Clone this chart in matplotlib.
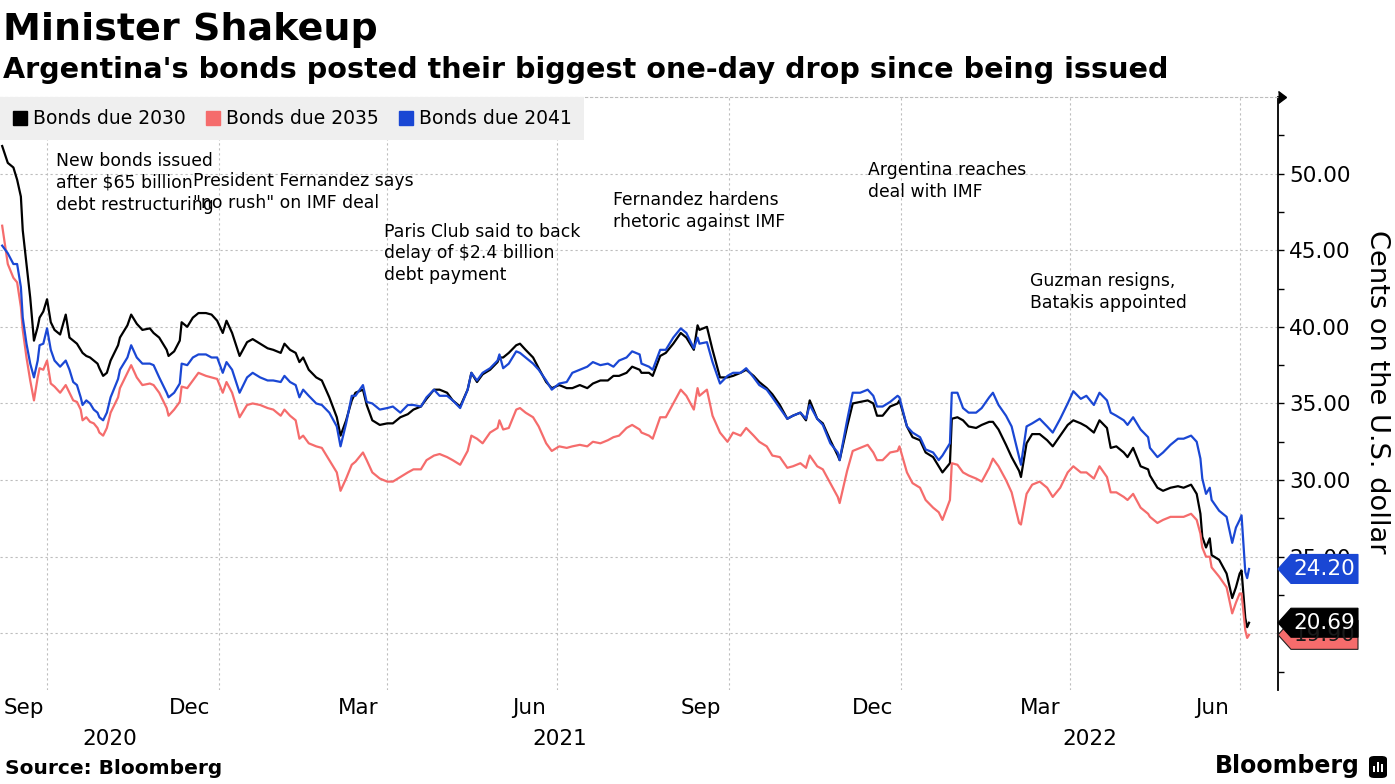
import matplotlib
matplotlib.use("Agg")
import matplotlib.pyplot as plt
import matplotlib.dates as mdates
import pandas as pd
from matplotlib.lines import Line2D
from matplotlib.patches import Polygon, FancyBboxPatch, Rectangle
from matplotlib.ticker import FormatStrFormatter, MultipleLocator, FixedLocator, FixedFormatter
from matplotlib.transforms import blended_transform_factory

# prices in cents on the dollar
dates = pd.to_datetime([
    "2020-09-07", "2020-09-10", "2020-09-13", "2020-09-15", "2020-09-17", "2020-09-18",
    "2020-09-20", "2020-09-22", "2020-09-24", "2020-09-26", "2020-09-27", "2020-09-29",
    "2020-10-01", "2020-10-03", "2020-10-05", "2020-10-08", "2020-10-11", "2020-10-13",
    "2020-10-15", "2020-10-17", "2020-10-19", "2020-10-20", "2020-10-22", "2020-10-24",
    "2020-10-26", "2020-10-28", "2020-10-29", "2020-10-31", "2020-11-02", "2020-11-04",
    "2020-11-08", "2020-11-09", "2020-11-13", "2020-11-15", "2020-11-18", "2020-11-21",
    "2020-11-25", "2020-11-27", "2020-11-30", "2020-12-04", "2020-12-05", "2020-12-08",
    "2020-12-11", "2020-12-12", "2020-12-15", "2020-12-18", "2020-12-21", "2020-12-25",
    "2020-12-28", "2020-12-31", "2021-01-03", "2021-01-05", "2021-01-08", "2021-01-12",
    "2021-01-16", "2021-01-19", "2021-01-23", "2021-01-27", "2021-01-30", "2021-02-03",
    "2021-02-05", "2021-02-08", "2021-02-11", "2021-02-13", "2021-02-15", "2021-02-18",
    "2021-02-22", "2021-02-25", "2021-03-01", "2021-03-05", "2021-03-07", "2021-03-10",
    "2021-03-13", "2021-03-15", "2021-03-19", "2021-03-21", "2021-03-24", "2021-03-28",
    "2021-04-01", "2021-04-04", "2021-04-08", "2021-04-12", "2021-04-15", "2021-04-19",
    "2021-04-22", "2021-04-26", "2021-04-29", "2021-05-03", "2021-05-06", "2021-05-10",
    "2021-05-14", "2021-05-16", "2021-05-19", "2021-05-22", "2021-05-26", "2021-05-30",
    "2021-05-31", "2021-06-02", "2021-06-05", "2021-06-09", "2021-06-11", "2021-06-14",
    "2021-06-18", "2021-06-21", "2021-06-25", "2021-06-28", "2021-07-02", "2021-07-06",
    "2021-07-09", "2021-07-13", "2021-07-17", "2021-07-20", "2021-07-24", "2021-07-28",
    "2021-07-31", "2021-08-03", "2021-08-07", "2021-08-10", "2021-08-14", "2021-08-15",
    "2021-08-19", "2021-08-21", "2021-08-25", "2021-08-28", "2021-09-01", "2021-09-05",
    "2021-09-08", "2021-09-12", "2021-09-14", "2021-09-15", "2021-09-19", "2021-09-22",
    "2021-09-26", "2021-09-30", "2021-10-03", "2021-10-07", "2021-10-10", "2021-10-14",
    "2021-10-17", "2021-10-21", "2021-10-24", "2021-10-28", "2021-11-01", "2021-11-04",
    "2021-11-08", "2021-11-11", "2021-11-13", "2021-11-17", "2021-11-20", "2021-11-24",
    "2021-11-28", "2021-11-29", "2021-12-03", "2021-12-06", "2021-12-10", "2021-12-14",
    "2021-12-17", "2021-12-19", "2021-12-22", "2021-12-26", "2021-12-30", "2021-12-31",
    "2022-01-04", "2022-01-07", "2022-01-11", "2022-01-14", "2022-01-18", "2022-01-21",
    "2022-01-23", "2022-01-27", "2022-01-28", "2022-01-31", "2022-02-03", "2022-02-06",
    "2022-02-10", "2022-02-13", "2022-02-17", "2022-02-19", "2022-02-22", "2022-02-26",
    "2022-03-01", "2022-03-05", "2022-03-06", "2022-03-09", "2022-03-12", "2022-03-16",
    "2022-03-20", "2022-03-23", "2022-03-27", "2022-03-31", "2022-04-03", "2022-04-07",
    "2022-04-10", "2022-04-14", "2022-04-17", "2022-04-21", "2022-04-23", "2022-04-26",
    "2022-04-30", "2022-05-02", "2022-05-05", "2022-05-09", "2022-05-13", "2022-05-14",
    "2022-05-18", "2022-05-21", "2022-05-25", "2022-05-29", "2022-06-01", "2022-06-05",
    "2022-06-08", "2022-06-10", "2022-06-11", "2022-06-13", "2022-06-15", "2022-06-16",
    "2022-06-20", "2022-06-24", "2022-06-27", "2022-06-29", "2022-07-01", "2022-07-02",
    "2022-07-04", "2022-07-05", "2022-07-06",
])

bonds_2030 = [
    51.8, 50.7, 50.4, 49.6, 48.5, 46.3, 44.1, 41.9, 39.1, 40.0, 40.6, 41.0, 41.8,
    40.3, 39.8, 39.5, 40.8, 39.3, 39.1, 38.9, 38.5, 38.3, 38.1, 38.0, 37.8, 37.6, 37.3, 36.8,
    37.0, 37.8, 38.8, 39.3, 40.1, 40.8, 40.2, 39.8, 39.9, 39.6, 39.3, 38.5, 38.1, 38.4,
    39.1, 40.3, 40.0, 40.6, 40.9, 40.9, 40.8, 40.4,
    39.6, 40.4, 39.6, 38.1, 39.0, 39.2, 38.9, 38.6, 38.5, 38.3, 38.9, 38.5, 38.3, 37.7,
    38.0, 37.2, 36.7, 36.5,
    35.4, 34.1, 32.9, 33.9, 35.2, 35.7, 35.9, 34.9, 33.9, 33.6, 33.7, 33.7, 34.1, 34.3,
    34.6, 34.8, 35.3, 35.9, 35.9, 35.7, 35.2, 34.8,
    35.9, 37.0, 36.4, 36.9, 37.2, 37.7, 38.0, 38.0, 38.3, 38.8, 38.9, 38.5, 38.0, 37.3, 36.4, 36.0,
    36.2, 36.0, 36.0, 36.2, 36.0, 36.3, 36.5, 36.5, 36.8, 36.8, 37.0, 37.4, 37.2, 37.0, 37.0, 36.8,
    38.1, 38.3, 38.9, 39.6, 39.3, 38.5, 40.1, 39.8, 40.0, 38.5, 36.7, 36.7,
    36.8, 37.0, 37.2, 36.8, 36.4, 36.0, 35.6, 34.9, 34.0, 34.2, 34.4, 33.9, 35.2, 34.0,
    33.7, 32.6, 31.6, 31.3,
    33.5, 35.0, 35.1, 35.2, 35.0, 34.2, 34.2, 34.8, 35.0, 35.2,
    33.5, 32.8, 32.6, 31.8, 31.5, 30.9, 30.5, 31.1, 34.0, 34.1, 33.9, 33.5, 33.4, 33.6,
    33.8, 33.8, 33.3, 32.3, 31.5, 30.6, 30.2,
    32.4, 33.0, 33.0, 32.6, 32.2, 32.9, 33.6, 33.9, 33.7, 33.5, 33.1, 33.9, 33.4, 32.1,
    32.2, 31.8, 31.5, 32.1, 30.9, 30.7, 30.3,
    29.5, 29.3, 29.5, 29.6, 29.5, 29.7, 29.1, 27.8, 26.3, 25.6, 26.2, 25.1, 24.8, 23.9,
    22.3, 23.0, 23.9, 24.1, 21.0, 20.4, 20.69,
]

bonds_2035 = [
    46.6, 44.1, 43.2, 42.9, 41.3, 39.8, 38.0, 36.5, 35.2, 36.7, 37.3, 37.2, 37.8,
    36.3, 36.1, 35.7, 36.2, 35.7, 35.2, 35.1, 34.6, 33.9, 34.1, 33.8, 33.7, 33.4, 33.1, 32.9,
    33.4, 34.4, 35.4, 36.0, 37.0, 37.5, 36.7, 36.2, 36.3, 36.2, 35.7, 34.7, 34.2, 34.6,
    35.1, 36.1, 36.0, 36.5, 37.0, 36.8, 36.7, 36.6,
    35.7, 36.4, 35.7, 34.1, 34.9, 35.0, 34.9, 34.7, 34.6, 34.2, 34.6, 34.2, 33.9, 32.7,
    32.9, 32.4, 32.2, 32.1,
    31.3, 30.5, 29.3, 30.1, 31.0, 31.2, 31.8, 31.3, 30.5, 30.1, 29.9, 29.9, 30.2, 30.5,
    30.7, 30.7, 31.3, 31.6, 31.7, 31.5, 31.3, 31.0,
    31.9, 32.9, 32.7, 32.4, 33.1, 33.4, 33.9, 33.3, 33.4, 34.6, 34.7, 34.4, 34.1, 33.5, 32.4, 31.9,
    32.2, 32.1, 32.2, 32.3, 32.2, 32.5, 32.4, 32.6, 32.8, 32.9, 33.4, 33.6, 33.3, 33.1, 32.9, 32.7,
    34.1, 34.1, 35.0, 35.9, 35.5, 34.6, 36.0, 35.5, 35.9, 34.2, 33.1, 32.5,
    33.1, 32.9, 33.4, 32.9, 32.5, 32.2, 31.6, 31.5, 30.8, 30.9, 31.1, 30.8, 31.6, 30.9,
    30.7, 29.8, 28.9, 28.5,
    30.6, 31.9, 32.1, 32.3, 31.8, 31.3, 31.3, 31.8, 31.9, 32.2,
    30.5, 29.8, 29.5, 28.7, 28.2, 27.9, 27.4, 28.7, 31.1, 31.0, 30.5, 30.3, 30.1, 29.9,
    30.8, 31.4, 30.9, 30.0, 29.2, 27.2, 27.1,
    29.1, 29.7, 29.9, 29.5, 28.9, 29.5, 30.5, 30.9, 30.5, 30.5, 30.1, 30.9, 30.2, 29.2,
    29.2, 28.9, 28.7, 29.1, 28.2, 27.8, 27.6,
    27.2, 27.4, 27.6, 27.6, 27.6, 27.8, 27.4, 26.5, 25.6, 25.0, 25.0, 24.3, 23.7, 23.0,
    21.3, 22.0, 22.6, 22.6, 20.2, 19.7, 19.90,
]

bonds_2041 = [
    45.3, 44.8, 44.1, 44.1, 42.6, 40.6, 38.9, 37.6, 36.7, 37.8, 38.8, 38.9, 39.9,
    38.5, 37.8, 37.4, 37.8, 37.2, 36.4, 36.2, 35.4, 34.9, 35.2, 35.0, 34.6, 34.4, 34.1, 33.9,
    34.4, 35.4, 36.6, 37.2, 38.0, 38.8, 38.0, 37.6, 37.6, 37.5, 36.7, 35.7, 35.4, 35.7,
    36.3, 37.6, 37.5, 38.0, 38.2, 38.2, 38.0, 38.0,
    37.0, 37.7, 37.2, 35.7, 36.7, 37.0, 36.7, 36.5, 36.5, 36.4, 36.8, 36.4, 36.2, 35.4,
    35.9, 35.5, 35.0, 34.9,
    34.4, 33.5, 32.2, 33.7, 35.5, 35.5, 36.2, 35.1, 35.0, 34.6, 34.7, 34.8, 34.4, 34.9,
    34.9, 34.8, 35.4, 35.9, 35.5, 35.5, 35.2, 34.7,
    35.9, 37.0, 36.5, 37.0, 37.3, 37.8, 38.2, 37.3, 37.6, 38.4, 38.3, 38.0, 37.6, 37.2, 36.5, 35.9,
    36.3, 36.4, 37.0, 37.2, 37.4, 37.7, 37.5, 37.6, 37.4, 37.8, 38.0, 38.4, 38.2, 37.6, 37.4, 37.2,
    38.5, 38.5, 39.3, 39.9, 39.6, 38.6, 39.3, 38.9, 39.0, 37.7, 36.3, 36.8,
    37.0, 37.0, 37.3, 36.7, 36.2, 35.9, 35.4, 34.7, 34.0, 34.2, 34.4, 34.0, 34.9, 34.0,
    33.6, 32.4, 31.8, 31.3,
    33.9, 35.7, 35.7, 35.9, 35.5, 34.8, 34.8, 35.1, 35.5, 35.4,
    33.5, 33.1, 32.8, 32.0, 31.8, 31.3, 31.6, 32.4, 35.7, 35.7, 34.7, 34.4, 34.4, 34.7,
    35.4, 35.7, 34.9, 34.2, 33.5, 31.5, 31.0,
    33.5, 33.7, 34.0, 33.5, 33.1, 34.0, 35.0, 35.8, 35.3, 35.5, 34.9, 35.7, 35.2, 34.4,
    34.2, 33.9, 33.6, 34.1, 33.3, 32.8, 32.1,
    31.5, 31.8, 32.3, 32.7, 32.7, 32.9, 32.5, 31.4, 30.1, 29.1, 29.5, 28.7, 28.0, 27.6,
    25.9, 26.9, 27.4, 27.7, 24.0, 23.6, 24.20,
]

labels = ["Bonds due 2030", "Bonds due 2035", "Bonds due 2041"]
colors = ["#000000", "#f56c6c", "#1a47d4"]
tag_text_colors = ["white", "#1a1a1a", "white"]

month_labels = ["2020-09", "2020-12", "2021-03", "2021-06", "2021-09", "2021-12",
                "2022-03", "2022-06"]
years = [2020, 2021, 2022]

notes = [
    ("New bonds issued\nafter $65 billion\ndebt restructuring", "2020-10-06", 51.4),
    ("President Fernandez says\n\"no rush\" on IMF deal", "2020-12-18", 50.1),
    ("Paris Club said to back\ndelay of $2.4 billion\ndebt payment", "2021-03-30", 46.8),
    ("Fernandez hardens\nrhetoric against IMF", "2021-07-31", 48.85),
    ("Argentina reaches\ndeal with IMF", "2021-12-14", 50.8),
    ("Guzman resigns,\nBatakis appointed", "2022-03-11", 43.55),
]

plt.rcParams["font.family"] = ["DejaVu Sans"]

W, H = 1395, 784
fig = plt.figure(figsize=(W / 100, H / 100), dpi=100)
ax_left, ax_right, ax_top, ax_bottom = 0, 1278, 97, 690
ax = fig.add_axes([ax_left / W, 1 - ax_bottom / H,
                   (ax_right - ax_left) / W, (ax_bottom - ax_top) / H])

series = [bonds_2030, bonds_2035, bonds_2041]
for vals, col, lab in zip(series, colors, labels):
    ax.plot(dates, vals, color=col, lw=1.6, label=lab, solid_joinstyle="round")

ax.set_xlim(pd.Timestamp("2020-09-05 20:00"), pd.Timestamp("2022-07-21 12:00"))
ax.set_ylim(16.3, 55.0)
xl = ax.get_xlim()

# x axis: gridlines at quarter starts, month names centred on the visible month
ax.xaxis.set_major_locator(mdates.MonthLocator(bymonth=[1, 4, 7, 10]))
ax.xaxis.set_major_formatter(plt.NullFormatter())
mpos, mtxt = [], []
for m in month_labels:
    start = pd.Timestamp(m + "-01")
    a = max(mdates.date2num(start), xl[0])
    b = min(mdates.date2num(start + pd.offsets.MonthBegin(1)), xl[1])
    mpos.append((a + b) / 2)
    mtxt.append(start.strftime("%b"))
ax.xaxis.set_minor_locator(FixedLocator(mpos))
ax.xaxis.set_minor_formatter(FixedFormatter(mtxt))
ax.tick_params(axis="x", which="both", length=0, labelsize=15.5, pad=6)
ax.grid(axis="x", which="major", color="#bdbdbd", lw=0.8, ls=(0, (2, 2.5)))

# year labels centred on the visible part of each year
trans = blended_transform_factory(ax.transData, ax.transAxes)
for yr in years:
    a = max(mdates.date2num(pd.Timestamp(f"{yr}-01-01")), xl[0])
    b = min(mdates.date2num(pd.Timestamp(f"{yr + 1}-01-01")), xl[1])
    ax.text((a + b) / 2, -0.082, str(yr), transform=trans, ha="center", va="center",
            fontsize=15.5)

# y axis on the right
ax.yaxis.tick_right()
ax.yaxis.set_major_locator(MultipleLocator(5))
ax.yaxis.set_minor_locator(MultipleLocator(2.5))
ax.yaxis.set_major_formatter(FormatStrFormatter("%.2f"))
ax.tick_params(axis="y", which="both", length=4, width=1, color="black",
               labelsize=15.5, pad=4)
ax.set_yticks([20, 25, 30, 35, 40, 45, 50])
ax.grid(axis="y", which="major", color="#bdbdbd", lw=0.8, ls=(0, (2, 2.5)))
ax.set_axisbelow(True)

for side in ["left", "bottom"]:
    ax.spines[side].set_visible(False)
ax.spines["top"].set_color("#bdbdbd")
ax.spines["top"].set_linestyle((0, (2, 2.5)))
ax.spines["top"].set_linewidth(0.8)
ax.spines["right"].set_color("black")
ax.spines["right"].set_linewidth(1.3)
ax.plot([1], [1], marker=9, color="black", markersize=8, transform=ax.transAxes,
        clip_on=False)

fig.text(1377 / W, 1 - 392 / H, "Cents on the U.S. dollar", rotation=-90,
         ha="center", va="center", fontsize=19.6)

# value tags at the last price
ax_w_px = ax_right - ax_left
units_per_px = (55.0 - 16.3) / (ax_bottom - ax_top)
half_h = 14.5 * units_per_px
tip, base, end = 1.0, 1 + 13 / ax_w_px, 1 + 80 / ax_w_px
tag_trans = blended_transform_factory(ax.transAxes, ax.transData)
for i in [1, 0, 2]:
    v = series[i][-1]
    poly = Polygon([(tip, v), (base, v + half_h), (end, v + half_h),
                    (end, v - half_h), (base, v - half_h)], closed=True,
                   transform=tag_trans, facecolor=colors[i],
                   edgecolor="#222222" if i == 1 else colors[i], lw=0.8,
                   clip_on=False, zorder=6)
    ax.add_patch(poly)
    ax.text((base + end) / 2, v, f"{v:.2f}", transform=tag_trans, ha="center",
            va="center", fontsize=15.5, color=tag_text_colors[i], zorder=7,
            clip_on=False)

# event notes
for txt, d, y in notes:
    ax.text(pd.Timestamp(d), y, txt, ha="left", va="top", fontsize=12.4,
            linespacing=1.27, zorder=4)

handles = [Line2D([], [], ls="", marker="s", markersize=10, color=c) for c in colors]
leg = ax.legend(handles, labels, loc="upper left", bbox_to_anchor=(0, 1), ncol=3,
                frameon=True, fancybox=False, facecolor="#efefef", edgecolor="none",
                framealpha=1, fontsize=13.5, borderaxespad=0, borderpad=0.65,
                handlelength=0.8, handletextpad=0.3, columnspacing=1.05)
leg.set_zorder(5)

fig.text(3 / W, 1 - 30 / H, "Minister Shakeup", fontsize=27.4, fontweight="bold",
         va="center", ha="left")
fig.text(3 / W, 1 - 70 / H,
         "Argentina's bonds posted their biggest one-day drop since being issued",
         fontsize=20.65, fontweight="bold", va="center", ha="left")
fig.text(5 / W, 1 - 768 / H, "Source: Bloomberg", fontsize=14.5, fontweight="bold",
         va="center", ha="left")
fig.text(1360 / W, 1 - 766 / H, "Bloomberg", fontsize=17, fontweight="bold",
         va="center", ha="right")
icon = FancyBboxPatch((1369 / W, 1 - 778 / H), 18 / W, 22 / H,
                      boxstyle="round,pad=0,rounding_size=0.004",
                      transform=fig.transFigure, facecolor="black", edgecolor="none")
fig.patches.append(icon)
for k, hh in enumerate([6, 10, 8]):
    fig.patches.append(Rectangle(((1373 + k * 4) / W, 1 - 772 / H), 2.2 / W, hh / H,
                                 transform=fig.transFigure, facecolor="white",
                                 edgecolor="none"))

fig.savefig("out.png", dpi=100)
